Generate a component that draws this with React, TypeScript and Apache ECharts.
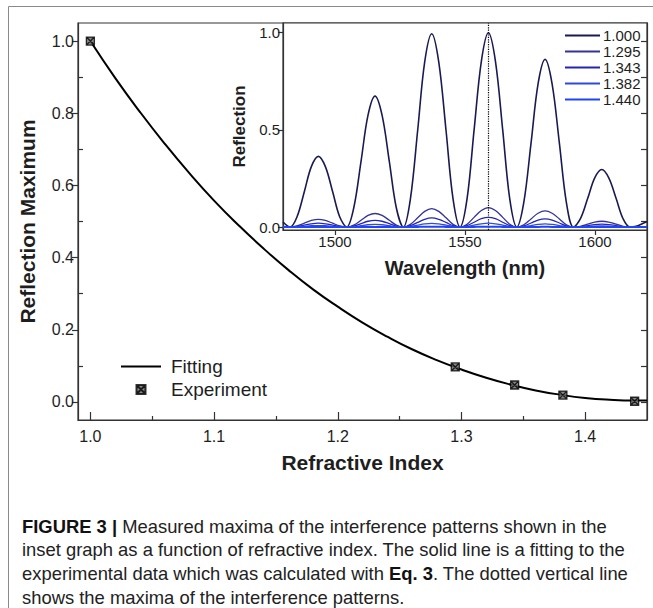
import React, { useEffect, useRef } from 'react';
import * as echarts from 'echarts';

const FONT = '"Liberation Sans", Arial, Helvetica, sans-serif';

// ---------- main chart data ----------
const fitN = [1.00, 1.02, 1.04, 1.06, 1.08, 1.10, 1.12, 1.14, 1.16, 1.18, 1.20, 1.22, 1.24, 1.26, 1.28, 1.30, 1.32, 1.34, 1.36, 1.38, 1.40, 1.42, 1.44, 1.45];
const fitR = [1.000, 0.898, 0.804, 0.716, 0.634, 0.558, 0.489, 0.425, 0.366, 0.312, 0.264, 0.220, 0.181, 0.146, 0.116, 0.090, 0.067, 0.048, 0.032, 0.020, 0.011, 0.006, 0.004, 0.004];
const expN = [1.000, 1.295, 1.343, 1.382, 1.440];
const expR = [1.000, 0.097, 0.047, 0.019, 0.002];

const mainXTicks = [1.0, 1.1, 1.2, 1.3, 1.4];
const mainXMinorTicks = [1.05, 1.15, 1.25, 1.35];
const mainYTicks = [0.0, 0.2, 0.4, 0.6, 0.8, 1.0];
const mainYMinorTicks = [0.1, 0.3, 0.5, 0.7, 0.9];
const mainYRightTicks = [0.0, 0.1, 0.2, 0.3, 0.4, 0.5, 0.6, 0.7, 0.8, 0.9, 1.0];

// ---------- inset data ----------
const insetXTicks = [1500, 1550, 1600];
const insetYTicks = [0.0, 0.5, 1.0];
const dottedWavelength = 1559;

const wavelengths = [
  1480.0,
  1482.7, 1485.4, 1488.2, 1490.9, 1493.6, 1496.3, 1499.1, 1501.8,
  1504.5, 1507.2, 1510.0, 1512.7, 1515.4, 1518.1, 1520.9, 1523.6,
  1526.3, 1529.0, 1531.8, 1534.5, 1537.2, 1539.9, 1542.7, 1545.4,
  1548.1, 1550.8, 1553.5, 1556.3, 1559.0, 1561.7, 1564.5, 1567.2,
  1569.9, 1572.6, 1575.4, 1578.1, 1580.8, 1583.5, 1586.3, 1589.0,
  1591.7, 1594.4, 1597.2, 1599.9, 1602.6, 1605.3, 1608.1, 1610.8,
  1613.5, 1616.2, 1619.0, 1620.0,
];

const r1000 = [
  0.026,
  0, 0.053, 0.182, 0.311, 0.364, 0.311, 0.182, 0.053,
  0, 0.098, 0.337, 0.576, 0.674, 0.576, 0.337, 0.098,
  0, 0.145, 0.498, 0.850, 0.995, 0.850, 0.498, 0.145,
  0, 0.146, 0.500, 0.854, 1.000, 0.854, 0.500, 0.146,
  0, 0.126, 0.432, 0.737, 0.863, 0.737, 0.432, 0.126,
  0, 0.043, 0.148, 0.253, 0.296, 0.253, 0.148, 0.043,
  0, 0.006, 0.022, 0.027,
];
const r1295 = [
  0.003,
  0, 0.006, 0.020, 0.034, 0.040, 0.034, 0.020, 0.006,
  0, 0.010, 0.035, 0.060, 0.070, 0.060, 0.035, 0.010,
  0, 0.014, 0.048, 0.081, 0.095, 0.081, 0.048, 0.014,
  0, 0.015, 0.050, 0.085, 0.100, 0.085, 0.050, 0.015,
  0, 0.012, 0.042, 0.071, 0.083, 0.071, 0.042, 0.012,
  0, 0.004, 0.015, 0.026, 0.030, 0.026, 0.015, 0.004,
  0, 0.001, 0.002, 0.003,
];
const r1343 = [
  0.001,
  0, 0.003, 0.010, 0.017, 0.020, 0.017, 0.010, 0.003,
  0, 0.005, 0.018, 0.030, 0.035, 0.030, 0.018, 0.005,
  0, 0.007, 0.024, 0.040, 0.047, 0.040, 0.024, 0.007,
  0, 0.007, 0.025, 0.043, 0.050, 0.043, 0.025, 0.007,
  0, 0.006, 0.021, 0.036, 0.042, 0.036, 0.021, 0.006,
  0, 0.002, 0.008, 0.013, 0.015, 0.013, 0.008, 0.002,
  0, 0, 0.001, 0.001,
];
const r1382 = [
  0,
  0, 0.001, 0.004, 0.007, 0.008, 0.007, 0.004, 0.001,
  0, 0.002, 0.007, 0.012, 0.014, 0.012, 0.007, 0.002,
  0, 0.003, 0.010, 0.016, 0.019, 0.016, 0.010, 0.003,
  0, 0.003, 0.010, 0.017, 0.020, 0.017, 0.010, 0.003,
  0, 0.002, 0.008, 0.014, 0.017, 0.014, 0.008, 0.002,
  0, 0.001, 0.003, 0.005, 0.006, 0.005, 0.003, 0.001,
  0, 0, 0, 0,
];
const r1440 = [
  0,
  0, 0, 0, 0.001, 0.001, 0.001, 0, 0,
  0, 0, 0.001, 0.001, 0.001, 0.001, 0.001, 0,
  0, 0, 0.001, 0.002, 0.002, 0.002, 0.001, 0,
  0, 0, 0.001, 0.002, 0.002, 0.002, 0.001, 0,
  0, 0, 0.001, 0.001, 0.002, 0.001, 0.001, 0,
  0, 0, 0, 0.001, 0.001, 0.001, 0, 0,
  0, 0, 0, 0,
];

const insetNames = ['1.000', '1.295', '1.343', '1.382', '1.440'];
const insetValues = [r1000, r1295, r1343, r1382, r1440];
const insetColors = ['#1a1a52', '#33339a', '#2424b8', '#2e48e0', '#1f44ff'];
const insetWidths = [1.6, 1.3, 1.3, 1.3, 2];

const captionLines = [
  '{b|FIGURE 3 |} Measured maxima of the interference patterns shown in the',
  'inset graph as a function of refractive index. The solid line is a fitting to the',
  'experimental data which was calculated with {b|Eq. 3}. The dotted vertical line',
  'shows the maxima of the interference patterns.',
];

const AX = '#333';
const TXT = '#1e1e1e';
const CAP = 18.4;

function buildOption(): any {
  const fmt1 = (v: number) => v.toFixed(1);
  const fmt0 = (v: number) => String(Math.round(v));
  const insetSeries = insetNames.map((name, k) => ({
    name,
    type: 'line',
    xAxisIndex: 2,
    yAxisIndex: 3,
    data: wavelengths.map((w, i) => [w, insetValues[k][i]]),
    smooth: 0.35,
    symbol: 'none',
    showSymbol: false,
    itemStyle: { color: insetColors[k] },
    lineStyle: { color: insetColors[k], width: insetWidths[k] },
    z: 3 + k,
    markLine:
      k === 0
        ? {
            silent: true,
            symbol: ['none', 'none'],
            label: { show: false },
            lineStyle: { color: '#000', type: 'dotted', width: 1.2 },
            data: [{ xAxis: dottedWavelength }],
          }
        : undefined,
  }));

  return {
    animation: false,
    backgroundColor: '#fff',
    textStyle: { fontFamily: FONT },
    grid: [
      { left: 78, top: 23, right: 6, bottom: 188, show: true, borderColor: AX, borderWidth: 1.2, backgroundColor: 'transparent' },
      { left: 283, top: 23, right: 6, bottom: 378, show: true, borderColor: AX, borderWidth: 1.2, backgroundColor: '#fff' },
    ],
    legend: [
      {
        data: [
          { name: 'Fitting', itemStyle: { opacity: 0 } },
          { name: 'Experiment' },
        ],
        orient: 'vertical',
        left: 120,
        top: 356,
        padding: 0,
        itemWidth: 40,
        itemHeight: 9,
        itemGap: 2,
        textStyle: { fontSize: 19, color: TXT, fontFamily: FONT, padding: [0, 0, 0, 5], lineHeight: 21 },
      },
      {
        data: insetNames,
        orient: 'vertical',
        left: 565,
        top: 28,
        padding: 0,
        icon: 'rect',
        itemWidth: 35,
        itemHeight: 2,
        itemGap: 1,
        textStyle: { fontSize: 15, color: TXT, fontFamily: FONT, lineHeight: 15, padding: [0, 0, 0, -2] },
      },
    ],
    xAxis: [
      {
        gridIndex: 0,
        type: 'value',
        position: 'bottom',
        min: 0.99,
        max: 1.45,
        name: 'Refractive Index',
        nameLocation: 'middle',
        nameGap: 32,
        nameTextStyle: { fontSize: 21, fontWeight: 'bold', color: TXT, fontFamily: FONT },
        axisLine: { show: true, onZero: false, lineStyle: { color: AX, width: 1.2 } },
        axisTick: { show: true, inside: true, length: 8, customValues: mainXTicks, lineStyle: { color: AX, width: 1.2 } },
        axisLabel: { customValues: mainXTicks, formatter: fmt1, fontSize: 16, color: TXT, margin: 8, fontFamily: FONT },
        splitLine: { show: false },
      },
      {
        gridIndex: 0,
        type: 'value',
        position: 'bottom',
        min: 0.99,
        max: 1.45,
        axisLine: { show: false, onZero: false },
        axisTick: { show: true, inside: true, length: 4, customValues: mainXMinorTicks, lineStyle: { color: AX, width: 1.2 } },
        axisLabel: { show: false },
        splitLine: { show: false },
      },
      {
        gridIndex: 1,
        type: 'value',
        position: 'bottom',
        min: 1480,
        max: 1620,
        name: 'Wavelength (nm)',
        nameLocation: 'middle',
        nameGap: 28,
        nameTextStyle: { fontSize: 20, fontWeight: 'bold', color: TXT, fontFamily: FONT },
        axisLine: { show: true, onZero: false, lineStyle: { color: AX, width: 1.2 } },
        axisTick: { show: true, inside: false, length: 5, customValues: insetXTicks, lineStyle: { color: AX, width: 1.2 } },
        axisLabel: { customValues: insetXTicks, formatter: fmt0, fontSize: 15, color: TXT, margin: 4, fontFamily: FONT },
        splitLine: { show: false },
      },
    ],
    yAxis: [
      {
        gridIndex: 0,
        type: 'value',
        position: 'left',
        min: -0.05,
        max: 1.05,
        name: 'Reflection Maximum',
        nameLocation: 'middle',
        nameGap: 40,
        nameTextStyle: { fontSize: 21, fontWeight: 'bold', color: TXT, fontFamily: FONT },
        axisLine: { show: true, onZero: false, lineStyle: { color: AX, width: 1.2 } },
        axisTick: { show: true, inside: false, length: 6, customValues: mainYTicks, lineStyle: { color: AX, width: 1.2 } },
        axisLabel: { customValues: mainYTicks, formatter: fmt1, fontSize: 16, color: TXT, margin: 4, fontFamily: FONT },
        splitLine: { show: false },
      },
      {
        gridIndex: 0,
        type: 'value',
        position: 'left',
        min: -0.05,
        max: 1.05,
        axisLine: { show: false, onZero: false },
        axisTick: { show: true, inside: true, length: 5, customValues: mainYMinorTicks, lineStyle: { color: AX, width: 1.2 } },
        axisLabel: { show: false },
        splitLine: { show: false },
      },
      {
        gridIndex: 0,
        type: 'value',
        position: 'right',
        min: -0.05,
        max: 1.05,
        axisLine: { show: true, onZero: false, lineStyle: { color: AX, width: 1.2 } },
        axisTick: { show: true, inside: true, length: 6, customValues: mainYRightTicks, lineStyle: { color: AX, width: 1.2 } },
        axisLabel: { show: false },
        splitLine: { show: false },
      },
      {
        gridIndex: 1,
        type: 'value',
        position: 'left',
        min: -0.015,
        max: 1.05,
        name: 'Reflection',
        nameLocation: 'middle',
        nameGap: 33,
        nameTextStyle: { fontSize: 17, fontWeight: 'bold', color: TXT, fontFamily: FONT },
        axisLine: { show: true, onZero: false, lineStyle: { color: AX, width: 1.2 } },
        axisTick: { show: true, inside: false, length: 5, customValues: insetYTicks, lineStyle: { color: AX, width: 1.2 } },
        axisLabel: { customValues: insetYTicks, formatter: fmt1, fontSize: 15, color: TXT, margin: 3, fontFamily: FONT },
        splitLine: { show: false },
      },
    ],
    series: [
      {
        name: 'Fitting',
        type: 'line',
        xAxisIndex: 0,
        yAxisIndex: 0,
        data: fitN.map((n, i) => [n, fitR[i]]),
        smooth: true,
        symbol: 'none',
        showSymbol: false,
        itemStyle: { color: '#000' },
        lineStyle: { color: '#000', width: 2 },
        z: 2,
      },
      {
        name: 'Experiment',
        type: 'scatter',
        xAxisIndex: 0,
        yAxisIndex: 0,
        data: expN.map((n, i) => [n, expR[i]]),
        symbol: 'path://M0,0L10,0L10,10L0,10Z M0,0L10,10 M10,0L0,10',
        symbolKeepAspect: true,
        symbolSize: 8,
        itemStyle: { color: '#6a6a6a', borderColor: '#000', borderWidth: 1.3 },
        z: 4,
      },
      ...insetSeries,
    ],
    graphic: [
      { type: 'line', silent: true, shape: { x1: 8.5, y1: 6.5, x2: 653, y2: 6.5 }, style: { stroke: '#8a8a8a', lineWidth: 1 } },
      { type: 'line', silent: true, shape: { x1: 8.5, y1: 6.5, x2: 8.5, y2: 608 }, style: { stroke: '#8a8a8a', lineWidth: 1 } },
      ...captionLines.map((t, i) => ({
        type: 'text',
        silent: true,
        x: 22,
        y: 526 + i * 23.7,
        style: {
          text: t,
          fill: '#222',
          fontSize: CAP,
          fontFamily: FONT,
          verticalAlign: 'middle',
          rich: { b: { fontWeight: 'bold', fontSize: CAP, fontFamily: FONT, fill: '#111' } },
        },
      })),
    ],
  };
}

export default function App() {
  const ref = useRef<HTMLDivElement>(null);
  useEffect(() => {
    if (!ref.current) return;
    const chart = echarts.init(ref.current, null, { renderer: 'svg' });
    chart.setOption(buildOption());
    return () => chart.dispose();
  }, []);
  return (
    <div
      ref={ref}
      style={{ position: 'absolute', left: 0, top: 0, width: 653, height: 608, background: '#fff' }}
    />
  );
}
